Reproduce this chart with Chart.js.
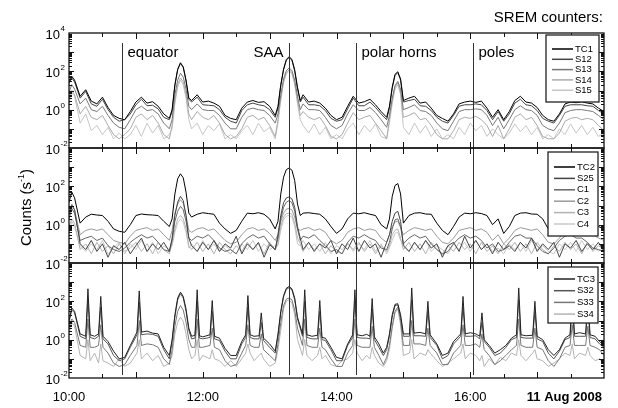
<!DOCTYPE html>
<html>
<head>
<meta charset="utf-8">
<script src="https://cdn.jsdelivr.net/npm/chart.js"></script>
<style>
  html, body { margin: 0; padding: 0; background: #fff; }
  #wrap { width: 618px; height: 408px; }
</style>
</head>
<body>
<div id="wrap"><canvas id="srem" width="618" height="408"></canvas></div>
<script>
// minutes after 10:00 UT, 11 Aug 2008
// upper two panels: 5 min steps, 2.5 min around the big peaks
var minutiAM = [0,2.5,5,10,15,20,25,30,35,40,
  45,50,55,60,65,70,75,80,85,
  90,92.5,95,97.5,100,102.5,105,107.5,110,
  115,120,125,130,135,140,145,150,155,160,165,170,175,180,185,
  187.5,190,192.5,195,197.5,200,202.5,205,207.5,210,
  215,220,225,230,235,240,245,250,255,260,265,270,275,280,
  285,287.5,290,292.5,295,297.5,300,
  305,310,315,320,325,330,335,340,345,350,355,360,365,370,375,380,385,390,
  395,400,405,410,415,420,425,430,435,440,445,450,455,460,465,470,475,480];
// lower panel: extra samples around each spike
var minutiB = [0,2.5,5,10,15,17,19,23,26.5,28.5,
  30.5,35,40,45,50,55,61,63,65,70,
  75,80,85,90,92.5,95,97.5,100,102.5,105,
  107.5,110,113,115,117,120,126.5,128.5,130.5,135,
  140,145,150,155,158.5,160.5,162.5,166,170.5,172.5,
  174.5,180,185,187.5,190,192.5,195,197.5,200,202.5,
  205,209.5,211.5,213.5,218,223,225,227,230,235,
  240,245,250,254.5,256.5,258.5,263,267,270,272,
  274,278,282,285,287.5,290,292.5,295,297.5,300,
  305.5,307.5,309.5,315,320,322,324,330,335,340,
  345,351.5,353.5,355.5,360,365,368.5,370.5,372.5,377,
  382,387,392,397,401.5,403.5,405.5,410,416,418,
  420,425,430,435,440,445,449.5,451.5,453.5,458,
  463.5,465.5,467.5,472,476,480];

var orari = ['10:00', '12:00', '14:00', '16:00'];
var orariMin = [0, 120, 240, 360];

// orbit markers (minutes after 10:00)
var marcatori = ['equator', 'SAA', 'polar horns', 'poles'];
var marcatoriMin = [47.2, 197.7, 257.5, 362.8];

// panel 1
var TC1 = [28,55,35,5,11,2.8,2,4.5,1.3,0.5,
  0.35,0.3,0.8,2.5,4.5,2.2,2.6,1.5,0.6,
  0.35,1,20,130,280,170,35,4,3,
  6,2.5,2.8,2.2,1.5,0.5,0.35,0.3,1.2,2.5,3,2.4,2.6,1.5,0.5,
  1.5,20,130,420,580,420,120,15,3,6,
  2.5,2.8,2.2,1.2,0.5,0.3,0.4,1.5,5,2.2,2.6,3.5,1.8,0.8,
  0.4,1.5,15,70,95,40,3,
  4,5,2.2,2.5,1.2,0.5,0.35,0.25,0.6,2,2.5,2.8,2.4,2.8,1.2,0.4,1,0.3,
  0.8,3,5,2.5,2.2,1.3,0.5,0.3,0.25,0.6,2,2.5,2.3,2.6,2.2,2,1.2,0.8];
var S12 = [23,45,28,4,9,2,1.5,3.5,1,0.4,
  0.25,0.3,0.6,1.8,3.5,1.6,1.7,1.1,0.4,
  0.3,0.8,18,120,260,160,30,3.5,2.5,
  4.5,1.8,1.7,1.6,1,0.4,0.25,0.2,0.9,1.8,2.2,1.8,1.6,1,0.4,
  1.2,18,120,380,520,380,100,12,2.5,4.5,
  1.8,1.8,1.6,0.9,0.35,0.25,0.3,1.1,4,1.6,1.6,2.5,1.3,0.6,
  0.3,1.2,13,60,85,35,2.5,
  3,3.5,1.6,1.5,0.9,0.4,0.25,0.2,0.5,1.5,1.8,1.8,2,1.8,0.9,0.3,0.8,0.25,
  0.6,2.2,3.5,1.8,1.6,0.9,0.35,0.25,0.2,0.5,1.5,1.8,1.8,1.8,1.6,1.5,0.9,0.6];
var S13 = [8,20,12,2,4,1,0.8,1.5,0.5,0.2,
  0.12,0.1,0.3,1,1.5,0.9,1,0.6,0.2,
  0.1,0.3,6,35,80,50,12,1.5,1,
  2,1,0.9,0.9,0.5,0.2,0.1,0.1,0.4,1,1.2,1,0.9,0.5,0.2,
  0.6,6,40,110,150,110,35,5,1,2,
  1,1,0.9,0.4,0.15,0.1,0.15,0.6,1.8,0.9,0.9,1.3,0.7,0.3,
  0.12,0.5,4,18,30,12,1,
  1.3,1.8,0.9,0.8,0.5,0.2,0.1,0.08,0.25,0.8,1,1,1.1,1,0.5,0.15,0.4,0.1,
  0.3,1,1.6,1,0.9,0.5,0.15,0.1,0.08,0.2,0.7,0.9,1,1,0.9,0.8,0.5,0.3];
var S14 = [4,10,6,0.6,1.5,0.4,0.3,0.5,0.15,0.05,
  0.03,0.05,0.1,0.4,0.6,0.3,0.5,0.2,0.05,
  0.03,0.15,3,20,45,28,6,0.6,0.3,
  0.8,0.4,0.3,0.5,0.2,0.05,0.03,0.04,0.1,0.4,0.5,0.3,0.4,0.15,0.04,
  0.3,4,30,90,120,90,25,3,0.5,0.8,
  0.4,0.3,0.4,0.15,0.04,0.03,0.05,0.2,0.7,0.3,0.4,0.5,0.2,0.08,
  0.03,0.3,3,15,25,8,0.4,
  0.5,0.7,0.3,0.35,0.15,0.05,0.03,0.03,0.08,0.3,0.4,0.35,0.45,0.3,0.15,0.04,0.15,0.03,
  0.1,0.4,0.6,0.3,0.4,0.15,0.04,0.03,0.03,0.06,0.25,0.35,0.4,0.3,0.35,0.3,0.15,0.08];
var S15 = [2,8,5,0.2,0.6,0.08,0.15,0.05,0.12,0.03,
  0.06,0.03,0.05,0.15,0.04,0.2,0.06,0.15,0.03,
  0.05,0.1,2,15,35,20,4,0.3,0.1,
  0.2,0.05,0.15,0.08,0.18,0.03,0.05,0.03,0.08,0.15,0.05,0.2,0.07,0.12,0.03,
  0.2,3,25,75,100,75,20,2,0.3,0.15,
  0.06,0.18,0.05,0.12,0.03,0.05,0.03,0.1,0.2,0.05,0.15,0.07,0.18,0.04,
  0.03,0.2,2,12,20,6,0.12,
  0.05,0.2,0.06,0.15,0.04,0.1,0.03,0.05,0.03,0.12,0.05,0.2,0.08,0.15,0.04,0.1,0.05,0.03,
  0.06,0.18,0.07,0.15,0.05,0.12,0.03,0.05,0.03,0.1,0.05,0.18,0.06,0.15,0.05,0.12,0.04,0.06];

// panel 2
var TC2 = [15,50,25,1.2,2.5,3.5,3.2,3,1.5,0.6,
  0.45,0.4,1,3,3.6,3.3,3.2,3,1.5,
  0.8,2,40,250,450,280,50,4,2.5,
  3.5,4.2,3.8,3.5,1.2,0.6,0.35,0.5,1.5,4,3.7,4.2,3.5,2,0.6,
  1.5,40,300,750,900,700,200,12,3,4,
  4.2,3.8,3.5,2,0.8,0.35,0.6,2,4,3.7,4.2,3.5,3,1,
  0.6,2,30,110,140,40,1.2,
  3,4,4.2,3.6,3.5,1.2,0.5,0.3,0.8,2.5,4,3.7,4.2,3.8,3,1,2,0.35,
  0.8,3,4,4.2,3.6,3.5,2,0.6,0.3,0.8,3,4,4.2,3.5,2.5,1.5,0.8,0.6];
var S25 = [4,10,6,0.1,0.05,0.15,0.04,0.1,0.02,0.08,
  0.05,0.12,0.03,0.08,0.2,0.04,0.1,0.05,0.12,
  0.04,0.2,3,15,30,18,3,0.2,0.08,
  0.04,0.12,0.05,0.15,0.04,0.1,0.06,0.25,0.03,0.1,0.05,0.12,0.02,0.09,0.05,
  0.3,3,14,25,28,22,8,0.8,0.2,0.05,
  0.12,0.04,0.1,0.06,0.15,0.03,0.1,0.05,0.2,0.04,0.15,0.06,0.1,0.02,
  0.12,0.3,1.5,4,5,1.5,0.08,
  0.04,0.12,0.05,0.15,0.06,0.1,0.02,0.08,0.12,0.04,0.25,0.06,0.15,0.05,0.1,0.03,0.12,0.05,
  0.08,0.04,0.12,0.06,0.2,0.04,0.1,0.05,0.12,0.02,0.1,0.06,0.15,0.04,0.1,0.05,0.12,0.04];
var C1 = [2,7,4,0.15,0.2,0.25,0.15,0.2,0.08,0.05,
  0.04,0.06,0.12,0.2,0.3,0.2,0.25,0.12,0.05,
  0.04,0.15,1.5,5,9,6,1.5,0.2,0.15,
  0.25,0.2,0.3,0.15,0.06,0.04,0.05,0.03,0.1,0.2,0.3,0.2,0.25,0.1,0.05,
  0.2,2,8,15,18,14,5,0.6,0.15,0.25,
  0.2,0.3,0.15,0.08,0.04,0.05,0.03,0.12,0.25,0.2,0.3,0.2,0.15,0.06,
  0.05,0.12,0.6,1.8,2,0.8,0.1,
  0.2,0.3,0.2,0.25,0.1,0.05,0.03,0.04,0.1,0.2,0.3,0.2,0.25,0.15,0.06,0.1,0.04,0.05,
  0.12,0.25,0.3,0.2,0.2,0.08,0.04,0.03,0.06,0.15,0.25,0.3,0.2,0.2,0.12,0.06,0.05,0.04];
var C2 = [3,12,6,0.3,0.5,0.6,0.5,0.6,0.3,0.15,
  0.12,0.1,0.25,0.5,0.6,0.7,0.5,0.6,0.3,
  0.15,0.5,4,12,20,13,3,0.5,0.4,
  0.6,0.7,0.5,0.6,0.3,0.15,0.1,0.12,0.3,0.6,0.7,0.5,0.6,0.35,0.15,
  0.3,1.5,4,6.5,7,6,2.5,0.6,0.5,0.6,
  0.7,0.5,0.6,0.4,0.15,0.1,0.15,0.4,0.6,0.7,0.5,0.6,0.5,0.2,
  0.12,0.3,0.8,1.4,1.5,0.7,0.3,
  0.5,0.7,0.6,0.5,0.6,0.25,0.12,0.1,0.2,0.5,0.6,0.7,0.5,0.6,0.4,0.15,0.3,0.1,
  0.2,0.5,0.7,0.6,0.5,0.6,0.3,0.12,0.1,0.2,0.5,0.6,0.7,0.5,0.5,0.3,0.2,0.15];
var C3 = [0.8,2,1.2,0.05,0.1,0.03,0.12,0.04,0.08,0.03,
  0.1,0.04,0.06,0.12,0.04,0.1,0.03,0.12,0.05,
  0.03,0.1,0.6,2,3,2,0.6,0.08,0.05,
  0.12,0.04,0.1,0.03,0.12,0.05,0.03,0.08,0.04,0.12,0.05,0.1,0.03,0.12,0.05,
  0.1,0.8,2.5,3.8,4,3.5,1.2,0.2,0.1,0.04,
  0.12,0.05,0.1,0.03,0.08,0.04,0.03,0.1,0.05,0.12,0.04,0.1,0.03,0.08,
  0.04,0.08,0.3,0.5,0.6,0.2,0.05,
  0.12,0.04,0.1,0.03,0.12,0.05,0.03,0.08,0.04,0.12,0.05,0.1,0.03,0.12,0.04,0.08,0.03,0.1,
  0.05,0.12,0.04,0.1,0.03,0.12,0.05,0.03,0.08,0.04,0.12,0.05,0.1,0.03,0.12,0.04,0.08,0.05];
var C4 = [0.4,1.5,0.8,0.08,0.04,0.1,0.05,0.15,0.03,0.06,
  0.12,0.03,0.1,0.05,0.15,0.04,0.12,0.03,0.08,
  0.05,0.08,0.4,1.2,2,1.3,0.4,0.06,0.1,
  0.04,0.15,0.05,0.1,0.04,0.08,0.05,0.03,0.1,0.05,0.15,0.04,0.1,0.05,0.08,
  0.08,0.5,1.8,2.8,3,2.5,0.8,0.1,0.08,0.15,
  0.05,0.1,0.04,0.12,0.03,0.08,0.05,0.12,0.04,0.1,0.05,0.15,0.04,0.1,
  0.03,0.06,0.15,0.35,0.4,0.15,0.1,
  0.04,0.12,0.05,0.15,0.04,0.08,0.05,0.03,0.1,0.05,0.12,0.04,0.15,0.05,0.1,0.04,0.06,0.03,
  0.1,0.05,0.12,0.04,0.15,0.05,0.08,0.04,0.03,0.1,0.05,0.12,0.04,0.15,0.05,0.1,0.04,0.08];

// panel 3
var TC3 = [10,45,30,2,1.5,450,1.8,1.5,2,180,
  1.5,0.8,0.25,0.1,0.12,0.5,2.5,350,2.5,2.8,
  2.2,2,0.4,0.15,1,20,150,300,180,40,
  4,1.5,1.7,400,1.6,1.4,1.8,110,1.5,1.2,
  0.35,0.15,0.15,0.8,1.8,200,1.8,1.5,1.6,25,
  1.2,0.6,0.25,2,30,200,480,600,450,150,
  15,2,400,1.8,1.5,1.7,110,1.3,1.2,0.4,
  0.12,0.1,0.6,1.8,400,1.8,1.6,1.9,1.5,140,
  1.4,0.6,0.2,0.4,2,20,70,75,20,2,
  2,500,2.2,2.4,2,100,1.8,0.6,0.15,0.2,
  0.8,2,180,2,2.3,2,1.5,25,1,0.5,
  0.2,0.3,0.5,1.2,1.8,500,1.8,1.6,1.7,100,
  1.5,1,0.3,0.15,0.3,1.2,1.8,200,2,2.3,
  2,150,1.8,1.5,0.8,0.5];
var S32 = [8,35,25,1.5,1.1,120,1.3,1.1,1.5,50,
  1.1,0.6,0.15,0.08,0.1,0.4,1.8,90,1.8,2,
  1.9,1.5,0.3,0.1,0.8,15,120,250,150,30,
  3,1.1,1.2,100,1.2,1.1,1.3,30,1.1,0.9,
  0.25,0.1,0.1,0.6,1.3,50,1.3,1.1,1.1,8,
  0.9,0.4,0.2,1.5,25,170,420,520,400,120,
  12,1.5,100,1.3,1.1,1.1,30,1,0.9,0.3,
  0.08,0.08,0.5,1.3,100,1.3,1.2,1.2,1.1,40,
  1,0.4,0.15,0.3,1.5,15,60,65,15,1.5,
  1.5,120,1.6,1.6,1.5,30,1.3,0.5,0.1,0.15,
  0.6,1.5,50,1.5,1.5,1.6,1.1,8,0.8,0.4,
  0.15,0.2,0.4,1,1.3,120,1.3,1.2,1.2,30,
  1.1,0.8,0.2,0.1,0.25,1,1.3,50,1.5,1.5,
  1.5,40,1.3,1.1,0.6,0.4];
var S33 = [4,12,8,0.5,0.4,12,0.4,0.4,0.5,6,
  0.4,0.2,0.06,0.04,0.05,0.15,0.5,10,0.5,0.6,
  0.55,0.4,0.1,0.05,0.3,5,30,60,35,8,
  1,0.4,0.4,12,0.4,0.4,0.5,4,0.4,0.3,
  0.08,0.04,0.05,0.2,0.5,6,0.5,0.4,0.4,2,
  0.3,0.15,0.08,0.6,8,60,130,150,120,35,
  4,0.5,12,0.5,0.4,0.4,4,0.4,0.3,0.1,
  0.04,0.04,0.2,0.5,12,0.5,0.4,0.4,0.4,5,
  0.4,0.15,0.05,0.12,0.5,5,30,50,10,0.5,
  0.5,10,0.6,0.6,0.5,4,0.5,0.2,0.05,0.05,
  0.2,0.5,6,0.5,0.5,0.6,0.4,2,0.3,0.15,
  0.05,0.08,0.15,0.3,0.5,12,0.5,0.4,0.4,4,
  0.4,0.3,0.08,0.04,0.1,0.4,0.5,6,0.5,0.5,
  0.5,5,0.5,0.4,0.3,0.15];
var S34 = [2,8,5,0.15,0.1,1,0.08,0.2,0.06,0.6,
  0.08,0.06,0.04,0.1,0.04,0.06,0.2,1,0.1,0.2,
  0.08,0.15,0.04,0.06,0.15,2,8,15,9,2,
  0.3,0.1,0.15,1,0.08,0.15,0.1,0.3,0.1,0.08,
  0.04,0.08,0.04,0.1,0.2,0.6,0.2,0.08,0.15,0.2,
  0.1,0.04,0.06,0.3,3,40,100,120,80,20,
  1,0.15,1,0.15,0.08,0.15,0.4,0.1,0.15,0.05,
  0.04,0.08,0.1,0.2,1,0.2,0.08,0.15,0.1,0.4,
  0.15,0.06,0.04,0.08,0.3,4,25,40,6,0.15,
  0.2,1,0.1,0.2,0.15,0.3,0.2,0.08,0.04,0.06,
  0.1,0.2,0.6,0.1,0.2,0.15,0.08,0.15,0.04,0.1,
  0.05,0.12,0.08,0.2,0.15,1,0.15,0.08,0.2,0.3,
  0.1,0.08,0.04,0.06,0.1,0.2,0.15,0.6,0.1,0.2,
  0.15,0.4,0.15,0.08,0.1,0.05];

var fontFam = '"Liberation Sans", Arial, Helvetica, sans-serif';

// panels: axis id, times, series, names, colours, legend box (x, dy, w, h, first row, row step)
var pannelli = [
  { id: 'yTop', tempi: minutiAM, serie: [TC1, S12, S13, S14, S15], nomi: ['TC1', 'S12', 'S13', 'S14', 'S15'],
    colori: ['#000', '#444', '#777', '#aaa', '#c6c6c6'], box: [546, 2, 53, 67, 16, 10.3], dec: [-2, 0, 2, 4] },
  { id: 'yMid', tempi: minutiAM, serie: [TC2, S25, C1, C2, C3, C4], nomi: ['TC2', 'S25', 'C1', 'C2', 'C3', 'C4'],
    colori: ['#000', '#444', '#666', '#999', '#b2b2b2', '#c8c8c8'], box: [548, 4, 50, 84, 17, 11.4], dec: [-2, 0, 2] },
  { id: 'yBot', tempi: minutiB, serie: [TC3, S32, S33, S34], nomi: ['TC3', 'S32', 'S33', 'S34'],
    colori: ['#222', '#555', '#777', '#b4b4b4'], box: [548, 4, 50, 56, 14, 11.7], dec: [-2, 0, 2] }
];

var datasets = [];
pannelli.forEach(function(p) {
  p.serie.forEach(function(valori, i) {
    if (valori.length !== p.tempi.length) console.warn(p.nomi[i], valori.length, p.tempi.length);
    datasets.push({
      label: p.nomi[i],
      yAxisID: p.id,
      data: p.tempi.map(function(t, k) { return { x: t, y: valori[k] }; }),
      borderColor: p.colori[i],
      borderWidth: 1,
      pointRadius: 0,
      tension: 0
    });
  });
});

function asseY(peso) {
  return {
    type: 'logarithmic', min: 0.01, max: 10000,
    position: 'left', stack: 'srem', stackWeight: 1, weight: peso,
    grid: { display: false }, border: { display: false }, ticks: { display: false },
    afterFit: function(s) { s.width = 0; }
  };
}

function potenza(ctx, x, y, esp) {
  ctx.fillStyle = '#000';
  ctx.font = '13px ' + fontFam;
  ctx.textAlign = 'right';
  ctx.textBaseline = 'middle';
  ctx.fillText('10', x, y + 2);
  ctx.font = '8px ' + fontFam;
  ctx.textAlign = 'left';
  ctx.fillText(esp, x + 0.5, y - 4);
}

var cornice = {
  id: 'cornice',
  afterDatasetsDraw: function(chart) {
    var ctx = chart.ctx, area = chart.chartArea, sx = chart.scales.x;
    ctx.save();

    // orbit markers
    ctx.strokeStyle = '#333';
    ctx.lineWidth = 1;
    ctx.fillStyle = '#000';
    ctx.font = '15px ' + fontFam;
    ctx.textBaseline = 'alphabetic';
    marcatoriMin.forEach(function(t, i) {
      var px = Math.round(sx.getPixelForValue(t)) + 0.5;
      ctx.beginPath();
      ctx.moveTo(px, area.top + 10);
      ctx.lineTo(px, area.bottom - 3);
      ctx.stroke();
      if (marcatori[i] === 'SAA') {
        ctx.textAlign = 'right';
        ctx.fillText(marcatori[i], px - 6, area.top + 24);
      } else {
        ctx.textAlign = 'left';
        ctx.fillText(marcatori[i], px + 5, area.top + 24);
      }
    });

    pannelli.forEach(function(p) {
      var sy = chart.scales[p.id];
      var top = sy.top, bot = sy.bottom;
      ctx.strokeStyle = '#111';
      ctx.lineWidth = 1;
      // log ticks, left and right, pointing in
      for (var e = -2; e < 4; e++) {
        for (var m = 1; m < 10; m++) {
          if (e === -2 && m === 1) continue;
          var py = Math.round(sy.getPixelForValue(m * Math.pow(10, e))) + 0.5;
          var len = m === 1 ? 5 : 3;
          ctx.beginPath();
          ctx.moveTo(area.left, py); ctx.lineTo(area.left + len, py);
          ctx.moveTo(area.right, py); ctx.lineTo(area.right - len, py);
          ctx.stroke();
        }
      }
      // time ticks, top and bottom, pointing in
      for (var t = 30; t < 480; t += 30) {
        var px = Math.round(sx.getPixelForValue(t)) + 0.5;
        var l = t % 60 === 0 ? 6 : 4;
        ctx.beginPath();
        ctx.moveTo(px, top); ctx.lineTo(px, top + l);
        ctx.moveTo(px, bot); ctx.lineTo(px, bot - l);
        ctx.stroke();
      }
      // frame
      ctx.lineWidth = 1.3;
      ctx.strokeRect(area.left, top, area.right - area.left, bot - top);

      // decade labels
      p.dec.forEach(function(e) {
        potenza(ctx, 60, sy.getPixelForValue(Math.pow(10, e)), String(e));
      });

      // legend
      var b = p.box, bx = b[0], by = top + b[1];
      ctx.fillStyle = '#fff';
      ctx.fillRect(bx, by, b[2], b[3]);
      ctx.strokeStyle = '#222';
      ctx.lineWidth = 1.3;
      ctx.strokeRect(bx, by, b[2], b[3]);
      ctx.font = '9.5px ' + fontFam;
      ctx.textAlign = 'left';
      ctx.textBaseline = 'middle';
      p.nomi.forEach(function(n, i) {
        var ry = by + b[4] - 2 + i * b[5];
        ctx.strokeStyle = p.colori[i];
        ctx.lineWidth = 1.5;
        ctx.beginPath();
        ctx.moveTo(bx + 6, ry); ctx.lineTo(bx + 27, ry);
        ctx.stroke();
        ctx.fillStyle = '#000';
        ctx.fillText(n, bx + 29, ry);
      });
    });

    // time labels
    ctx.fillStyle = '#000';
    ctx.font = '13px ' + fontFam;
    ctx.textAlign = 'center';
    ctx.textBaseline = 'middle';
    orariMin.forEach(function(t, i) {
      ctx.fillText(orari[i], sx.getPixelForValue(t), area.bottom + 19);
    });
    ctx.font = 'bold 13px ' + fontFam;
    ctx.textAlign = 'right';
    ctx.fillText('11 Aug 2008', 602, area.bottom + 19);

    ctx.font = '15px ' + fontFam;
    ctx.fillText('SREM counters:', 603, 18);

    // y title
    ctx.translate(27, (area.top + area.bottom) / 2 + 2);
    ctx.rotate(-Math.PI / 2);
    ctx.font = '15px ' + fontFam;
    var w1 = ctx.measureText('Counts (s').width;
    ctx.font = '9px ' + fontFam;
    var w2 = ctx.measureText('-1').width;
    ctx.font = '15px ' + fontFam;
    var w3 = ctx.measureText(')').width;
    var x0 = -(w1 + w2 + w3) / 2;
    ctx.textAlign = 'left';
    ctx.fillText('Counts (s', x0, 0);
    ctx.font = '9px ' + fontFam;
    ctx.fillText('-1', x0 + w1, -5);
    ctx.font = '15px ' + fontFam;
    ctx.fillText(')', x0 + w1 + w2, 0);

    ctx.restore();
  }
};

new Chart(document.getElementById('srem'), {
  type: 'line',
  data: { datasets: datasets },
  options: {
    responsive: false,
    animation: false,
    devicePixelRatio: 1,
    events: [],
    layout: { padding: { left: 69, right: 14, top: 33, bottom: 30 } },
    plugins: { legend: { display: false }, tooltip: { enabled: false } },
    scales: {
      x: {
        type: 'linear', min: 0, max: 480,
        grid: { display: false }, border: { display: false }, ticks: { display: false },
        afterFit: function(s) { s.height = 0; }
      },
      yBot: asseY(1),
      yMid: asseY(2),
      yTop: asseY(3)
    }
  },
  plugins: [cornice]
});
</script>
</body>
</html>
